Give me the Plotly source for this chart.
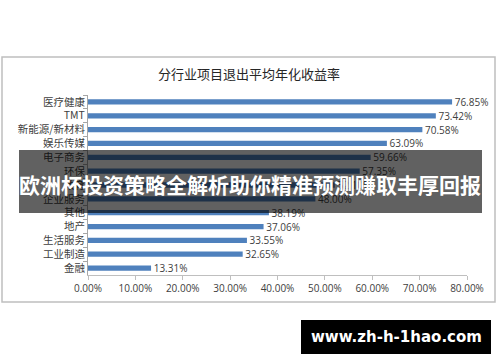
import plotly.graph_objects as go

categories = ["医疗健康", "TMT", "新能源/新材料", "娱乐传媒", "电子商务", "环保", "教育",
              "企业服务", "其他", "地产", "生活服务", "工业制造", "金融"]
values = [76.85, 73.42, 70.58, 63.09, 59.66, 57.35, 52.10,
          48.00, 38.19, 37.06, 33.55, 32.65, 13.31]
tick_vals = [0, 10, 20, 30, 40, 50, 60, 70, 80]
tick_text = ["0.00%", "10.00%", "20.00%", "30.00%", "40.00%", "50.00%", "60.00%", "70.00%", "80.00%"]
title_text = "分行业项目退出平均年化收益率"
banner_text = "欧洲杯投资策略全解析助你精准预测赚取丰厚回报"
watermark_text = "www.zh-h-1hao.com"

W, H = 500, 362
L, R, T, B = 88, 33, 95, 87
PW, PH = W - L - R, H - T - B

def px(x):
    return (x - L) / PW

def py(y):
    return (H - B - y) / PH

font_cjk = "Noto Sans CJK SC, sans-serif"

fig = go.Figure(go.Bar(
    x=values, y=categories, orientation="h",
    marker=dict(color="#4F81BD", line=dict(width=0)),
    texttemplate="\u00a0%{x:.2f}%", textposition="outside",
    constraintext="none",
    textfont=dict(size=10, color="#404040", family="Open Sans, sans-serif"),
    cliponaxis=False,
))

fig.update_layout(
    width=W, height=H, margin=dict(l=L, r=R, t=T, b=B),
    paper_bgcolor="white", plot_bgcolor="white",
    bargap=0.62, showlegend=False,
    xaxis=dict(range=[0, 80], tickvals=tick_vals, ticktext=tick_text,
               showgrid=False, zeroline=False, showline=True, linecolor="#BFBFBF",
               ticks="outside", ticklen=4, tickcolor="#BFBFBF",
               tickfont=dict(size=10, color="#404040", family="Open Sans, sans-serif")),
    yaxis=dict(autorange="reversed", showgrid=False, showline=True, linecolor="#A6A6A6",
               ticks="outside", ticklen=4, tickcolor="#A6A6A6", tickson="boundaries",
               tickfont=dict(size=10.5, color="#404040", family=font_cjk)),
)

shapes = [
    dict(type="rect", xref="paper", yref="paper", x0=px(2), x1=px(495), y0=py(57), y1=py(302),
         line=dict(color="#BFBFBF", width=1.5), fillcolor="rgba(0,0,0,0)", layer="below"),
    dict(type="rect", xref="paper", yref="paper", x0=px(19), x1=px(482), y0=py(150), y1=py(213),
         line=dict(width=0), fillcolor="rgba(0,0,0,0.62)", layer="above"),
    dict(type="rect", xref="paper", yref="paper", x0=px(301), x1=px(491), y0=py(320), y1=py(354),
         line=dict(width=0), fillcolor="black", layer="above"),
]
fig.update_layout(shapes=shapes)

fig.add_annotation(text=title_text, xref="paper", yref="paper", x=px(249), y=py(73),
                   showarrow=False, xanchor="center", yanchor="middle",
                   font=dict(size=13, color="#262626", family=font_cjk))
fig.add_annotation(text="<b>" + banner_text + "</b>", xref="paper", yref="paper",
                   x=px(250), y=py(184), showarrow=False, xanchor="center", yanchor="middle",
                   font=dict(size=21, color="white", family=font_cjk))
fig.add_annotation(text="<b>" + watermark_text + "</b>", xref="paper", yref="paper",
                   x=px(396), y=py(337), showarrow=False, xanchor="center", yanchor="middle",
                   font=dict(size=15, color="white", family="DejaVu Sans, sans-serif"))

fig.write_html("out.html")
